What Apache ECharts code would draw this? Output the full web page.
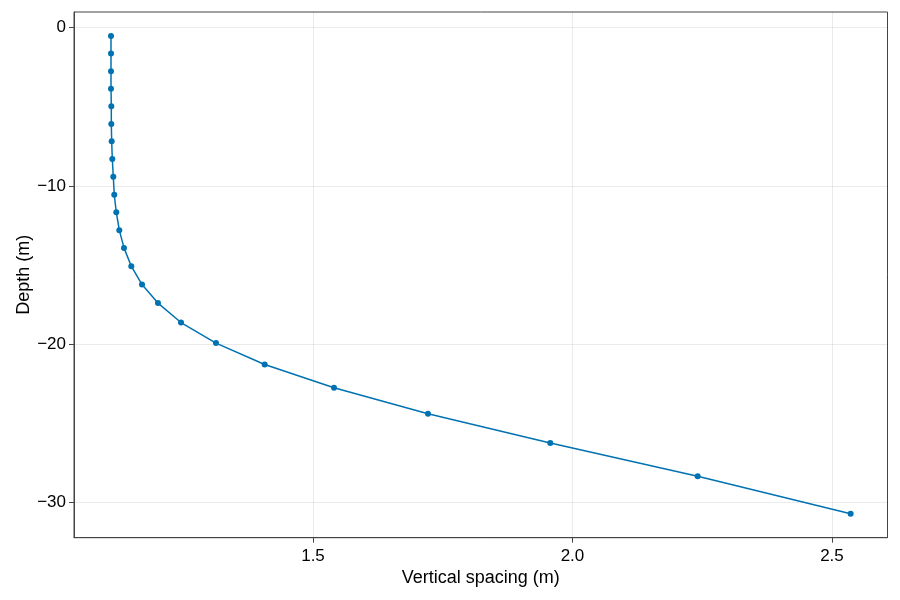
<!DOCTYPE html>
<html>
<head>
<meta charset="utf-8">
<script src="https://cdn.jsdelivr.net/npm/echarts@6/dist/echarts.min.js"></script>
<style>
html,body{margin:0;padding:0;background:#fff;}
#chart{width:900px;height:600px;}
</style>
</head>
<body>
<div id="chart"></div>
<script>
const spacing = [1.1108, 1.1108, 1.1108, 1.1108, 1.1114, 1.1114, 1.1121, 1.1133, 1.1152, 1.1171,
  1.1210, 1.1268, 1.1358, 1.1499, 1.1705, 1.2013, 1.2457, 1.3131, 1.4069, 1.5405,
  1.7216, 1.9572, 2.2412, 2.5360];
const depth = [-0.52, -1.63, -2.75, -3.86, -4.97, -6.09, -7.18, -8.30, -9.42, -10.56,
  -11.67, -12.80, -13.92, -15.08, -16.24, -17.41, -18.64, -19.94, -21.29, -22.76,
  -24.40, -26.25, -28.36, -30.73];
const xTicks = [1.5, 2.0, 2.5];
const yTicks = [-30, -20, -10, 0];

const font = '"Liberation Sans", Arial, sans-serif';

const chart = echarts.init(document.getElementById('chart'));
chart.setOption({
  animation: false,
  grid: {left: 74, right: 12.5, top: 12, bottom: 62.3, show: true, borderColor: '#444', borderWidth: 1, containLabel: false},
  xAxis: {
    type: 'value', min: 1.0395, max: 2.607,
    name: 'Vertical spacing (m)', nameLocation: 'middle', nameGap: 31, nameMoveOverlap: false,
    nameTextStyle: {fontFamily: font, fontSize: 18, color: '#000'},
    axisLine: {show: true, onZero: false, lineStyle: {color: '#444', width: 1}},
    axisTick: {show: true, length: 5, inside: false, customValues: xTicks, lineStyle: {color: '#444'}},
    axisLabel: {customValues: xTicks, margin: 10, fontFamily: font, fontSize: 17, color: '#000',
      formatter: v => v.toFixed(1)},
    splitLine: {show: true, lineStyle: {color: 'rgba(0,0,0,0.08)', width: 1}}
  },
  yAxis: {
    type: 'value', min: -32.24, max: 0.99,
    name: 'Depth (m)', nameLocation: 'middle', nameGap: 41, nameRotate: 90, nameMoveOverlap: false,
    nameTextStyle: {fontFamily: font, fontSize: 18, color: '#000'},
    axisLine: {show: true, onZero: false, lineStyle: {color: '#444', width: 1}},
    axisTick: {show: true, length: 5, inside: false, customValues: yTicks, lineStyle: {color: '#444'}},
    axisLabel: {customValues: yTicks, margin: 8, fontFamily: font, fontSize: 17, color: '#000',
      formatter: v => String(v).replace('-', '\u2212')},
    splitLine: {show: true, lineStyle: {color: 'rgba(0,0,0,0.08)', width: 1}}
  },
  series: [{
    type: 'line',
    data: spacing.map((s, i) => [s, depth[i]]),
    symbol: 'circle', symbolSize: 6,
    itemStyle: {color: '#0072b2'},
    lineStyle: {color: '#0072b2', width: 1.5},
    showSymbol: true
  }]
});
</script>
</body>
</html>
